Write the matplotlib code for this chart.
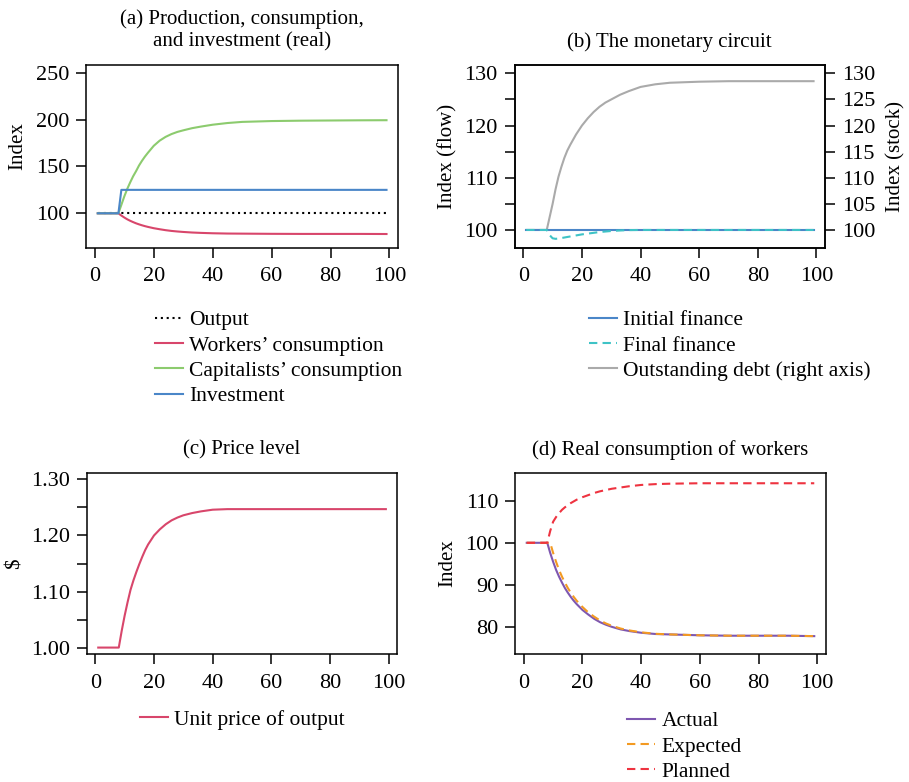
import numpy as np
import matplotlib
matplotlib.use('Agg')
import matplotlib.pyplot as plt

plt.rcParams['font.family'] = ['Liberation Serif', 'DejaVu Serif']
plt.rcParams['font.size'] = 15

# time periods (shock at t = 8/9)
t = [1, 8, 9, 10, 11, 12, 13, 14, 15, 16, 17, 18, 20, 22, 24, 26, 28, 30, 33, 36,
     40, 45, 50, 60, 70, 80, 90, 99]

# (a) production, consumption and investment
output = [100] * len(t)
workers = [100, 100, 97.6, 95.5, 93.6, 92.0, 90.6, 89.3, 88.2, 87.2, 86.3, 85.5, 84.1, 83.0,
           82.0, 81.2, 80.6, 80.1, 79.5, 79.1, 78.7, 78.4, 78.3, 78.1, 78.0, 78.0, 78.0, 77.9]
capitalists = [100, 100, 109, 118, 126, 133, 139.5, 145, 151, 156, 160.5, 164.5, 172, 177.5,
               181.5, 184.5, 186.8, 188.5, 190.8, 192.5, 194.5, 196.3, 197.5, 198.4, 198.8,
               199, 199.2, 199.3]
investment = [100, 100] + [125] * 26

# (b) monetary circuit
init_fin = [100] * len(t)
final_fin = [100, 100, 99.0, 98.4, 98.3, 98.35, 98.45, 98.55, 98.65, 98.75, 98.85, 98.95,
             99.15, 99.3, 99.45, 99.6, 99.7, 99.8, 99.9, 99.97, 100, 100, 100, 100, 100,
             100, 100, 100]
debt = [100, 100, 102.5, 105.0, 107.8, 110.2, 112.1, 113.8, 115.2, 116.3, 117.3, 118.3,
        120.0, 121.4, 122.6, 123.6, 124.4, 125.0, 125.9, 126.6, 127.4, 127.9, 128.2,
        128.4, 128.5, 128.5, 128.5, 128.5]

# (c) price level
price = [1.0, 1.0, 1.030, 1.057, 1.081, 1.103, 1.120, 1.135, 1.149, 1.162, 1.174, 1.184,
         1.200, 1.211, 1.220, 1.227, 1.232, 1.236, 1.240, 1.243, 1.246, 1.247, 1.247,
         1.247, 1.247, 1.247, 1.247, 1.247]

# (d) real consumption of workers
actual = workers
expected = [100, 100, 100, 97.6, 95.5, 93.6, 92.0, 90.6, 89.3, 88.2, 87.2, 86.3, 84.8, 83.5,
            82.5, 81.6, 80.9, 80.35, 79.7, 79.25, 78.8, 78.45, 78.3, 78.1, 78.0, 78.0,
            78.0, 77.9]
planned = [100, 100, 102.8, 105.0, 106.1, 107.0, 107.8, 108.4, 108.9, 109.4, 109.8, 110.2,
           110.8, 111.3, 111.8, 112.2, 112.5, 112.8, 113.1, 113.4, 113.7, 113.9, 114.0,
           114.1, 114.1, 114.1, 114.1, 114.1]

W, H = 909, 782
fig = plt.figure(figsize=(W / 100, H / 100), dpi=100)


def px_axes(l, top, r, b):
    return fig.add_axes([l / W, 1 - b / H, (r - l) / W, (b - top) / H])


def style(ax):
    for s in ax.spines.values():
        s.set_linewidth(1.1)
    ax.tick_params(direction='out', length=7, width=1.1, pad=5, labelsize=16)
    ax.tick_params(axis='x', pad=7)
    ax.set_xlim(-3, 102.9)
    ax.set_xticks([0, 20, 40, 60, 80, 100])


def legend(ax, handles, x, y):
    ax.legend(handles=handles, loc='upper left', bbox_to_anchor=(x / W, 1 - y / H),
              bbox_transform=fig.transFigure, frameon=False, borderpad=0,
              borderaxespad=0, handlelength=1.3, handletextpad=0.3,
              labelspacing=0.25, fontsize=15.5)


lw = 1.5
dash = (0, (4, 2.5))
tpad = 13

# ---- (a)
ax = px_axes(86, 65, 398, 247.7)
style(ax)
h1, = ax.plot(t, output, color='black', lw=lw, ls=(0, (1, 1.8)), label='Output')
h2, = ax.plot(t, workers, color='#D8466B', lw=lw, label='Workers’ consumption')
h3, = ax.plot(t, capitalists, color='#8CCB6E', lw=lw, label='Capitalists’ consumption')
h4, = ax.plot(t, investment, color='#4A86C8', lw=lw, label='Investment')
ax.set_ylim(63.3, 258.2)
ax.set_yticks([100, 150, 200, 250])
ax.set_ylabel('Index', fontsize=15)
ax.yaxis.set_label_coords(-0.189, 0.555)
ax.set_title('(a) Production, consumption,\nand investment (real)', fontsize=15, pad=tpad,
             linespacing=1.25)
legend(ax, [h1, h2, h3, h4], 155, 310)

# ---- (b)
ax = px_axes(514.5, 65, 825, 247.7)
style(ax)
ax2 = ax.twinx()
g, = ax2.plot(t, debt, color='#AAAAAA', lw=lw, label='Outstanding debt (right axis)')
b1, = ax.plot(t, init_fin, color='#4A86C8', lw=lw, label='Initial finance')
b2, = ax.plot(t, final_fin, color='#3EC3C6', lw=lw, ls=dash, label='Final finance')
ax.set_zorder(ax2.get_zorder() + 1)
ax.patch.set_visible(False)
yl = (96.6, 131.6)
ax.set_ylim(*yl)
ax2.set_ylim(*yl)
ticks_b = [100, 105, 110, 115, 120, 125, 130]
ax.set_yticks(ticks_b)
ax.set_yticklabels([str(v) if v % 10 == 0 else '' for v in ticks_b])
ax2.set_yticks(ticks_b)
ax2.tick_params(direction='out', length=7, width=1.1, pad=5, labelsize=16)
for s in ax2.spines.values():
    s.set_linewidth(1.1)
ax.set_ylabel('Index (flow)', fontsize=15)
ax.yaxis.set_label_coords(-0.185, 0.5)
ax2.set_ylabel('Index (stock)', fontsize=15)
ax2.yaxis.set_label_coords(1.197, 0.5)
ax.set_title('(b) The monetary circuit', fontsize=15, pad=tpad)
legend(ax, [b1, b2, g], 589, 310)

# ---- (c)
ax = px_axes(86.5, 472.7, 397.3, 654.3)
style(ax)
c1, = ax.plot(t, price, color='#D8466B', lw=lw, label='Unit price of output')
ax.set_ylim(0.988, 1.312)
ticks_c = [1.00, 1.05, 1.10, 1.15, 1.20, 1.25, 1.30]
ax.set_yticks(ticks_c)
ax.set_yticklabels(['1.00', '', '1.10', '', '1.20', '', '1.30'])
ax.set_ylabel('$', fontsize=15)
ax.yaxis.set_label_coords(-0.198, 0.5)
ax.set_title('(c) Price level', fontsize=15, pad=tpad)
legend(ax, [c1], 140, 709.5)

# ---- (d)
ax = px_axes(515, 472.7, 825.7, 654.3)
style(ax)
d1, = ax.plot(t, actual, color='#7E57B0', lw=lw, label='Actual')
d2, = ax.plot(t, expected, color='#F39A22', lw=lw, ls=dash, label='Expected')
d3, = ax.plot(t, planned, color='#EE3340', lw=lw, ls=dash, label='Planned')
ax.set_ylim(73.6, 116.6)
ax.set_yticks([80, 90, 100, 110])
ax.set_ylabel('Index', fontsize=15)
ax.yaxis.set_label_coords(-0.185, 0.5)
ax.set_title('(d) Real consumption of workers', fontsize=15, pad=tpad)
legend(ax, [d1, d2, d3], 627, 711)

fig.savefig('out.png', dpi=100)
